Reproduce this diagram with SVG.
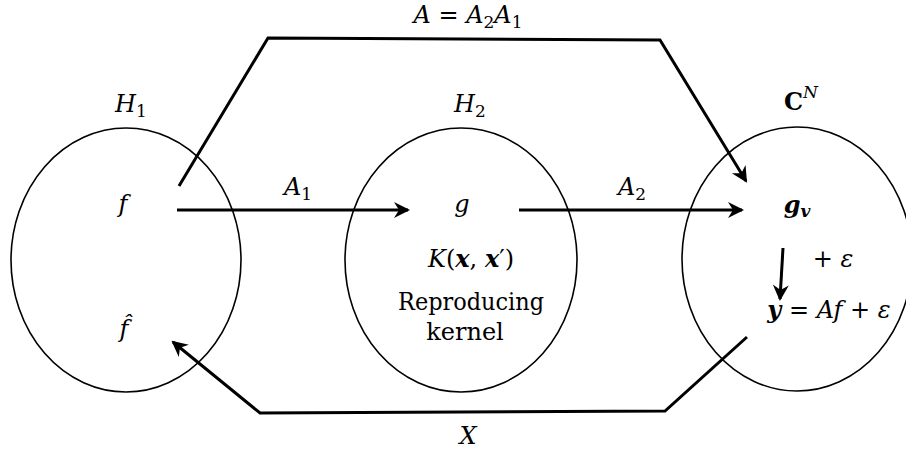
<svg xmlns="http://www.w3.org/2000/svg" width="906" height="450" viewBox="0 0 906 450">
<style>
.node{fill:none;stroke:#000;stroke-width:1.6}
.conn{fill:none;stroke:#000;stroke-width:3;stroke-linejoin:miter}
.m{font-style:italic}
.b{font-weight:bold}
.s{font-size:17px}
</style>
<defs>
<marker id="ah" markerUnits="userSpaceOnUse" markerWidth="24" markerHeight="24" viewBox="-20 -10 24 20" refX="0" refY="0" orient="auto">
<path d="M2,0 L-14,-8 L-9,0 L-14,8 Z" fill="#000"/>
</marker>
</defs>
<rect fill="#fff" width="906" height="450"/>
<g font-family="DejaVu Serif, serif" font-size="24" fill="#000">
<g id="connectors">
<path id="e-A1" class="conn" d="M177,210 L408,210" marker-end="url(#ah)"/>
<path id="e-A2" class="conn" d="M519,210 L742,210" marker-end="url(#ah)"/>
<path id="e-A" class="conn" d="M179,186 L268,38 L660,40 L746,181" marker-end="url(#ah)"/>
<path id="e-noise" class="conn" d="M783,248 L780,299" marker-end="url(#ah)"/>
<path id="e-X" class="conn" d="M747,337 L665,411 L260,413 L173,342" marker-end="url(#ah)"/>
<text x="298" y="195" text-anchor="middle"><tspan class="m">A</tspan><tspan class="s" dy="5">1</tspan></text>
<text x="632" y="195" text-anchor="middle"><tspan class="m">A</tspan><tspan class="s" dy="5">2</tspan></text>
<text x="468" y="23" text-anchor="middle"><tspan class="m">A</tspan> = <tspan class="m">A</tspan><tspan class="s" dy="5">2</tspan><tspan class="m" dy="-5">A</tspan><tspan class="s" dy="5">1</tspan></text>
<text x="468" y="444" text-anchor="middle" class="m">X</text>
</g>

<g id="H1">
<ellipse class="node" cx="126" cy="260" rx="115" ry="132"/>
<text x="131" y="112" text-anchor="middle"><tspan class="m">H</tspan><tspan class="s" dy="5">1</tspan></text>
<text x="123" y="212" text-anchor="middle" class="m">f</text>
<text x="124" y="337" text-anchor="middle" class="m">f̂</text>
</g>

<g id="H2">
<ellipse class="node" cx="461" cy="260" rx="116" ry="132"/>
<text x="470" y="112" text-anchor="middle"><tspan class="m">H</tspan><tspan class="s" dy="5">2</tspan></text>
<text x="462" y="212" text-anchor="middle" class="m">g</text>
<text x="471" y="267" text-anchor="middle"><tspan class="m">K</tspan>(<tspan class="m b">x</tspan>, <tspan class="m b">x</tspan>′)</text>
<text x="471" y="310" text-anchor="middle" textLength="146" lengthAdjust="spacingAndGlyphs">Reproducing</text>
<text x="465" y="340" text-anchor="middle">kernel</text>
</g>

<g id="CN">
<ellipse class="node" cx="797" cy="259" rx="115" ry="132"/>
<text x="801" y="110" text-anchor="middle"><tspan class="b">C</tspan><tspan class="s m" dy="-12">N</tspan></text>
<text x="797" y="213" text-anchor="middle"><tspan class="m b">g</tspan><tspan class="s m b" dy="4">v</tspan></text>
<text x="833" y="267" text-anchor="middle">+ <tspan class="m">ε</tspan></text>
<text x="829" y="318" text-anchor="middle"><tspan class="m b">y</tspan> = <tspan class="m">Af</tspan> + <tspan class="m">ε</tspan></text>
</g>
</g>
</svg>
